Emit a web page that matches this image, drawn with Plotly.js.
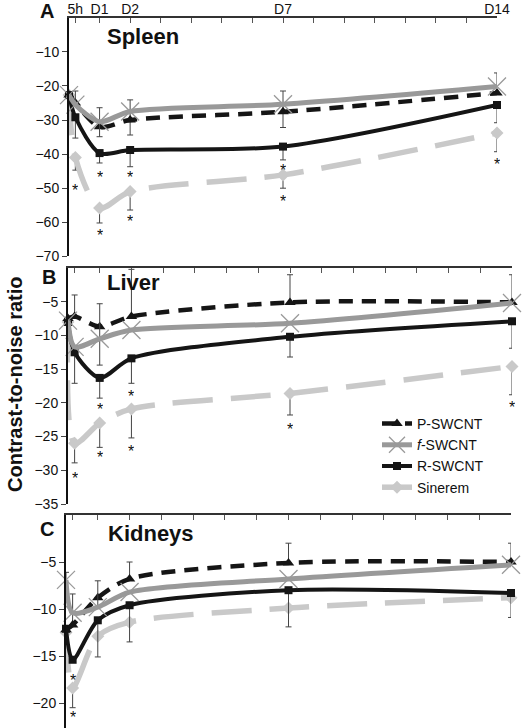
<!DOCTYPE html>
<html><head><meta charset="utf-8">
<script src="https://cdn.plot.ly/plotly-3.0.1.min.js"></script>
<style>html,body{margin:0;padding:0;background:#fff}#chart{width:522px;height:728px}</style>
</head><body><div id="chart"></div>
<script>
// ---------- data ----------
const days = [0, 5/24, 1, 2, 7, 14];
const tickDays = [5/24, 1, 2, 3, 4, 5, 6, 7, 8, 9, 10, 11, 12, 13, 14];
const tickLabels = ['5h', 'D1', 'D2', '', '', '', '', 'D7', '', '', '', '', '', '', 'D14'];
const seriesNames = ['P-SWCNT', '<i>f</i>-SWCNT', 'R-SWCNT', 'Sinerem'];
const organs = ['Spleen', 'Liver', 'Kidneys'];
const panelLetters = ['A', 'B', 'C'];
const yTitle = 'Contrast-to-noise ratio';

// Spleen (A)
const spleenP = [-22.7, -25.0, -32.0, -30.0, -27.6, -22.1];
const spleenF = [-22.7, -25.5, -30.5, -27.5, -25.4, -20.2];
const spleenR = [-22.7, -29.2, -39.7, -38.8, -37.8, -25.6];
const spleenS = [-22.7, -41.0, -55.8, -51.0, -46.1, -33.8];
const spleenPUp   = [0, 0, 0, 5.9, 6.1, 0];
const spleenPDown = [0, 0, 0, 4.4, 4.6, 0];
const spleenFUp   = [0, 4.0, 4.1, 0, 0, 4.0];
const spleenFDown = [0, 0, 4.4, 0, 0, 0];
const spleenRUp   = [0, 0, 0, 0, 0, 0];
const spleenRDown = [0, 6.1, 2.9, 4.9, 3.9, 5.2];
const spleenSUp   = [0, 0, 0, 0, 0, 0];
const spleenSDown = [0, 3.7, 4.4, 5.4, 3.9, 5.5];
const spleenStarX = [5/24, 1, 1, 2, 2, 7, 7, 14];
const spleenStarY = [-49.7, -46.0, -63.1, -46.0, -58.8, -44.0, -52.9, -42.2];

// Liver (B)
const liverP = [-7.5, -7.2, -8.7, -7.2, -5.1, -5.1];
const liverF = [-7.8, -11.7, -10.5, -9.2, -8.2, -5.2];
const liverR = [-8.0, -12.5, -16.3, -13.4, -10.2, -7.9];
const liverS = [-8.0, -26.0, -23.0, -20.9, -18.6, -14.6];
const liverPUp   = [0, 3.2, 0, 7.0, 4.1, 4.1];
const liverPDown = [0, 0, 0, 0, 0, 0];
const liverFUp   = [0, 0, 5.2, 0, 0, 0];
const liverFDown = [0, 0, 3.9, 0, 0, 0];
const liverRUp   = [0, 0, 0, 0, 0, 0];
const liverRDown = [0, 4.6, 3.0, 3.7, 3.0, 4.0];
const liverSUp   = [0, 0, 0, 0, 0, 0];
const liverSDown = [0, 2.9, 3.6, 4.3, 3.2, 4.2];
const liverStarX = [5/24, 1, 1, 2, 2, 7, 14];
const liverStarY = [-30.7, -20.6, -27.7, -18.6, -26.7, -23.5, -20.3];

// Kidneys (C)
const kidneyP = [-12.2, -11.7, -8.8, -6.8, -5.1, -5.0];
const kidneyF = [-6.9, -10.4, -9.8, -8.2, -6.8, -5.3];
const kidneyR = [-12.1, -15.4, -11.2, -9.6, -8.0, -8.3];
const kidneyS = [-12.5, -18.4, -12.9, -11.4, -9.9, -8.8];
const kidneyPUp   = [0, 3.3, 0, 1.8, 2.1, 2.0];
const kidneyPDown = [0, 0, 0, 0, 0, 0];
const kidneyFUp   = [0.8, 0, 2.8, 0, 0, 0];
const kidneyFDown = [0.8, 0, 0, 0, 0, 0];
const kidneyRUp   = [0, 0, 0, 0, 0, 0];
const kidneyRDown = [0, 0, 3.9, 3.9, 3.9, 2.6];
const kidneySUp   = [0, 0, 0, 0, 0, 0];
const kidneySDown = [0, 2.1, 0, 0, 0, 0];
const kidneyStarX = [5/24, 5/24];
const kidneyStarY = [-17.3, -21.2];

// ---------- assembly ----------
const W = 522, H = 728;
const panelData = [
  {vals: [spleenP, spleenF, spleenR, spleenS],
   up: [spleenPUp, spleenFUp, spleenRUp, spleenSUp],
   dn: [spleenPDown, spleenFDown, spleenRDown, spleenSDown],
   sx: spleenStarX, sy: spleenStarY},
  {vals: [liverP, liverF, liverR, liverS],
   up: [liverPUp, liverFUp, liverRUp, liverSUp],
   dn: [liverPDown, liverFDown, liverRDown, liverSDown],
   sx: liverStarX, sy: liverStarY},
  {vals: [kidneyP, kidneyF, kidneyR, kidneyS],
   up: [kidneyPUp, kidneyFUp, kidneyRUp, kidneySUp],
   dn: [kidneyPDown, kidneyFDown, kidneyRDown, kidneySDown],
   sx: kidneyStarX, sy: kidneyStarY}
];
// geometry (pixels) & styling
const geom = [
  {x0: 69, x1: 497, y0: 17.7, y1: 256.4, yr: [-70, 0], yt: [-10, -20, -30, -40, -50, -60, -70]},
  {x0: 68, x1: 512, y0: 268, y1: 504, yr: [-35, 0], yt: [-5, -10, -15, -20, -25, -30, -35]},
  {x0: 66, x1: 511, y0: 515, y1: 728, yr: [-22.66, 0], yt: [-5, -10, -15, -20]}
];
const styles = [
  {line: {color: '#151515', width: 4.5, dash: '14px,9px', shape: 'spline', smoothing: 0.8},
   marker: {symbol: 'triangle-up', size: 10, color: '#151515'}},
  {line: {color: '#999999', width: 5, shape: 'spline', smoothing: 0.8},
   marker: {symbol: 'x-thin-open', size: 18, color: '#999999', line: {color: '#999999', width: 1.3}}},
  {line: {color: '#151515', width: 4, shape: 'spline', smoothing: 0.8},
   marker: {symbol: 'square', size: 8, color: '#151515'}},
  {line: {color: '#c9c9c9', width: 5.5, dash: '40px,18px', shape: 'spline', smoothing: 0.8},
   marker: {symbol: 'diamond', size: 10, color: '#c9c9c9'}}
];
const drawOrder = [3, 2, 0, 1];
const legendRank = [1, 2, 3, 4];

const traces = [];
const layout = {
  width: W, height: H,
  margin: {l: 0, r: 0, t: 0, b: 0},
  paper_bgcolor: '#ffffff', plot_bgcolor: 'rgba(0,0,0,0)',
  font: {family: 'Liberation Sans, Arial, sans-serif', color: '#111', size: 14},
  showlegend: true,
  legend: {x: 377 / W, y: 1 - 408 / H, xanchor: 'left', yanchor: 'top',
           bgcolor: 'rgba(0,0,0,0)', font: {size: 14, color: '#111'},
           traceorder: 'normal', tracegroupgap: 0, itemsizing: 'trace'},
  annotations: []
};

geom.forEach((g, i) => {
  const sfx = i === 0 ? '' : String(i + 1);
  const xa = 'x' + sfx, ya = 'y' + sfx;
  layout['xaxis' + sfx] = {
    domain: [g.x0 / W, g.x1 / W], range: [0, 14], anchor: ya, side: 'top',
    showline: true, linecolor: '#333', linewidth: 1.6,
    ticks: 'inside', ticklen: 5, tickwidth: 1, tickcolor: '#555',
    tickmode: 'array', tickvals: tickDays, ticktext: tickLabels,
    showticklabels: i === 0, tickfont: {size: 14, color: '#111'}, ticklabelstandoff: -3,
    showgrid: false, zeroline: false, fixedrange: true
  };
  layout['yaxis' + sfx] = {
    domain: [1 - g.y1 / H, 1 - g.y0 / H], range: g.yr, anchor: xa,
    showline: true, linecolor: '#111', linewidth: 2,
    ticks: 'outside', ticklen: 5, tickwidth: 1, tickcolor: '#444',
    tickmode: 'array', tickvals: g.yt, tickfont: {size: 14, color: '#111'},
    showgrid: false, zeroline: false, fixedrange: true
  };
  const pd = panelData[i];
  drawOrder.forEach(s => {
    traces.push(Object.assign({
      type: 'scatter', mode: 'lines+markers', x: days, y: pd.vals[s],
      name: seriesNames[s], legendgroup: seriesNames[s], legendrank: legendRank[s],
      showlegend: i === 1, xaxis: xa, yaxis: ya, cliponaxis: false, hoverinfo: 'skip',
      error_y: {type: 'data', symmetric: false, array: pd.up[s], arrayminus: pd.dn[s],
                color: '#444', thickness: 1, width: 3}
    }, JSON.parse(JSON.stringify(styles[s]))));
  });
  // significance stars, placed through the panel's own axes;
  // a short box hugging the asterisk glyph keeps it centred on its point
  pd.sx.forEach((sx, k) => {
    layout.annotations.push({xref: xa, yref: ya, x: sx, y: pd.sy[k],
      text: '*', showarrow: false, xanchor: 'center', yanchor: 'middle',
      height: 11, valign: 'top', borderpad: 0,
      font: {size: 16, color: '#111'}});
  });
});

const letterPos = [[47, 11], [49, 277], [47, 529]];
const titlePos = [[143, 36], [133, 283], [151, 533]];
letterPos.forEach((p, i) => {
  layout.annotations.push({xref: 'paper', yref: 'paper', x: p[0] / W, y: 1 - p[1] / H,
    xanchor: 'center', yanchor: 'middle', showarrow: false,
    text: '<b>' + panelLetters[i] + '</b>', font: {size: 20, color: '#111'}});
  layout.annotations.push({xref: 'paper', yref: 'paper', x: titlePos[i][0] / W, y: 1 - titlePos[i][1] / H,
    xanchor: 'center', yanchor: 'middle', showarrow: false,
    text: '<b>' + organs[i] + '</b>', font: {size: 22, color: '#111'}});
});
layout.annotations.push({xref: 'paper', yref: 'paper', x: 15 / W, y: 1 - 384 / H,
  xanchor: 'center', yanchor: 'middle', showarrow: false, textangle: -90,
  text: '<b>' + yTitle + '</b>', font: {size: 20, color: '#111'}});

Plotly.newPlot('chart', traces, layout, {staticPlot: true, displayModeBar: false});
</script>
</body></html>
